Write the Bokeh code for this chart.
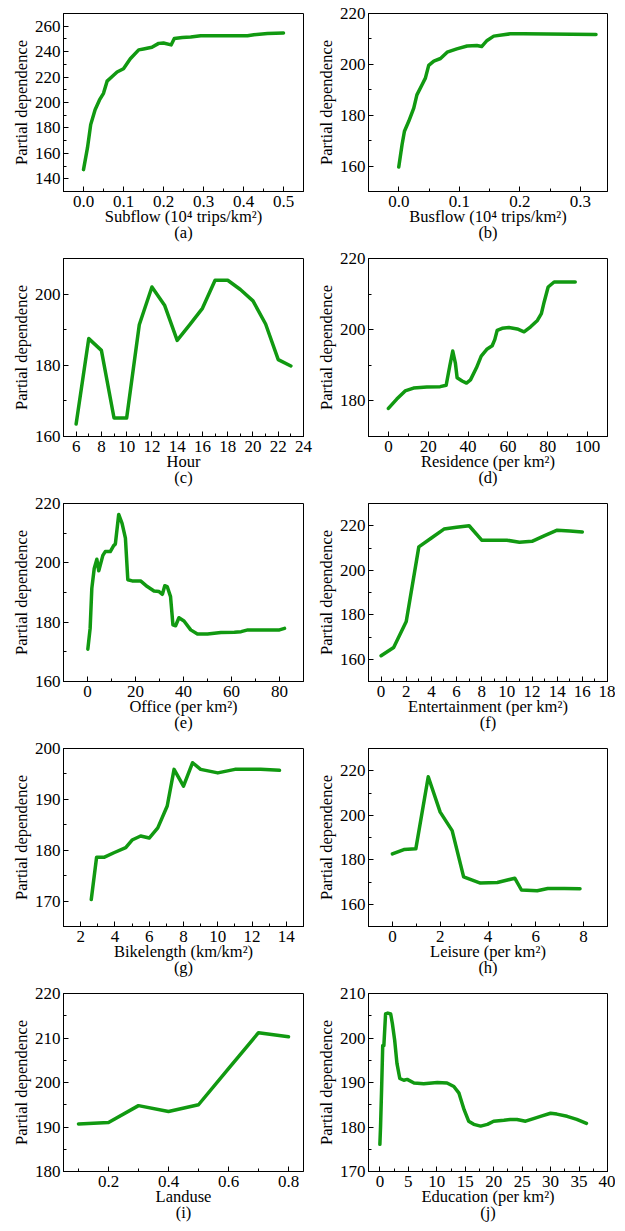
from bokeh.plotting import figure
from bokeh.layouts import gridplot
from bokeh.models import SingleIntervalTicker, NumeralTickFormatter, Range1d
from bokeh.embed import file_html
from bokeh.resources import INLINE

# ---- data ----
subflow_x = [0.0, 0.01, 0.018, 0.029, 0.04, 0.05, 0.059, 0.071, 0.084, 0.1, 0.117, 0.138, 0.15, 0.171,
             0.188, 0.2, 0.219, 0.227, 0.247, 0.268, 0.293, 0.376, 0.41, 0.426, 0.46, 0.5]
subflow_pd = [147.2, 164.5, 182.6, 194.3, 202.0, 207.2, 216.8, 220.2, 224.0, 226.6, 234.4, 241.4, 242.1, 243.4,
              246.5, 246.8, 245.3, 250.4, 251.2, 251.5, 252.5, 252.5, 252.5, 253.3, 254.3, 254.6]

busflow_x = [0.0, 0.0055, 0.0094, 0.0165, 0.0248, 0.03, 0.0385, 0.044, 0.0495, 0.058, 0.069, 0.08, 0.096,
             0.113, 0.129, 0.137, 0.146, 0.157, 0.173, 0.184, 0.206, 0.326]
busflow_pd = [159.6, 168.5, 173.7, 177.6, 182.8, 188.0, 192.0, 194.6, 199.6, 201.3, 202.3, 204.8, 206.1,
              207.2, 207.4, 207.0, 209.4, 211.1, 211.6, 212.0, 212.0, 211.7]

hour_x = [6, 7, 8, 9, 10, 11, 12, 13, 14, 15, 16, 17, 18, 19, 20, 21, 22, 23]
hour_pd = [163.5, 187.5, 184.2, 165.2, 165.2, 191.4, 202.0, 196.9, 187.0, 191.4, 196.0, 203.9, 203.9,
           201.3, 198.1, 191.6, 181.6, 179.8]

residence_x = [0, 4.2, 8.4, 12.6, 19.3, 26, 29, 30.8, 32.3, 33.6, 34.5, 37, 39.2, 41.2, 44.2, 46.6, 49.6,
               52.1, 53.4, 54.6, 57.1, 60.5, 64.7, 68.1, 71.4, 74.8, 76.8, 78.2, 80.2, 83.2, 88.2, 93.8]
residence_pd = [177.9, 180.5, 182.8, 183.6, 183.9, 184.0, 184.4, 189.8, 194.0, 190.7, 186.5, 185.6, 185.0,
                185.9, 189.3, 192.6, 194.6, 195.5, 197.2, 199.8, 200.4, 200.6, 200.2, 199.4, 200.8, 202.6,
                204.5, 207.8, 212.0, 213.4, 213.4, 213.4]

office_x = [0.14, 1.1, 1.8, 2.8, 3.9, 4.7, 6.4, 7.4, 9.5, 10.9, 11.6, 13.0, 14.4, 15.8, 16.8, 18.6, 22.1,
            24.9, 27.7, 29.8, 31.2, 32.2, 33.2, 34.6, 35.6, 36.7, 38.1, 40.2, 43.0, 45.8, 50.0, 55.6, 61.2,
            64.0, 66.8, 75.2, 80.0, 82.1]
office_pd = [170.9, 177.9, 191.4, 198.1, 201.2, 197.3, 202.5, 203.8, 203.8, 205.8, 206.3, 216.3, 213.3,
             208.3, 194.3, 193.9, 193.9, 192.0, 190.5, 190.3, 189.4, 192.3, 192.0, 188.6, 179.1, 178.8,
             181.5, 180.4, 177.4, 176.0, 176.0, 176.5, 176.6, 176.8, 177.4, 177.4, 177.4, 177.9]

entertainment_x = [0, 1, 2, 3, 4, 5, 6, 7, 8, 9, 10, 11, 12, 13, 14, 15, 16]
entertainment_pd = [161.6, 165.3, 177.0, 210.5, 214.5, 218.5, 219.3, 220.0, 213.5, 213.5, 213.5, 212.6,
                    213.0, 215.6, 218.0, 217.6, 217.2]

bikelength_x = [2.62, 2.93, 3.36, 3.94, 4.63, 5.0, 5.5, 6.0, 6.5, 7.05, 7.45, 8.0, 8.53, 9.0, 10.0, 11.0,
                12.5, 13.6]
bikelength_pd = [170.3, 178.6, 178.6, 179.5, 180.5, 182.0, 182.8, 182.4, 184.4, 188.7, 195.9, 192.6,
                 197.2, 195.9, 195.2, 195.9, 195.9, 195.7]

leisure_x = [0, 0.48, 0.98, 1.5, 2.0, 2.5, 2.98, 3.68, 4.39, 5.12, 5.4, 6.06, 6.5, 7.2, 7.85]
leisure_pd = [182.6, 184.6, 184.9, 217.3, 201.4, 193.1, 172.3, 169.5, 169.8, 171.7, 166.4, 166.1, 167.1,
              167.1, 167.0]

landuse_x = [0.1, 0.2, 0.3, 0.4, 0.5, 0.6, 0.7, 0.8]
landuse_pd = [190.7, 191.0, 194.8, 193.5, 195.0, 203.1, 211.2, 210.3]

education_x = [0, 0.12, 0.3, 0.5, 0.7, 1.0, 1.4, 1.9, 2.2, 2.6, 3.0, 3.5, 4.2, 4.8, 6.0, 7.7, 10.1, 11.8,
               13.0, 13.9, 14.8, 15.6, 16.5, 17.7, 18.9, 20.0, 21.8, 22.9, 24.1, 25.6, 27.0, 28.5, 30.0,
               31.1, 32.9, 34.6, 36.3]
education_pd = [176.1, 180.2, 188.4, 198.3, 198.3, 205.4, 205.6, 205.4, 203.2, 199.5, 194.3, 190.9, 190.5,
                190.7, 189.9, 189.7, 190.0, 189.9, 189.1, 187.6, 183.9, 181.3, 180.6, 180.2, 180.6, 181.3,
                181.5, 181.7, 181.7, 181.3, 181.9, 182.5, 183.1, 182.9, 182.4, 181.7, 180.8]

x_labels = ["Subflow (10\u2074 trips/km\u00b2)", "Busflow (10\u2074 trips/km\u00b2)", "Hour",
            "Residence (per km\u00b2)", "Office (per km\u00b2)", "Entertainment (per km\u00b2)",
            "Bikelength (km/km\u00b2)", "Leisure (per km\u00b2)", "Landuse", "Education (per km\u00b2)"]
tags = ["(a)", "(b)", "(c)", "(d)", "(e)", "(f)", "(g)", "(h)", "(i)", "(j)"]
y_label = "Partial dependence"

FONT = "Liberation Serif"
GREEN = "#119911"


def panel(xs, ys, xr, yr, xint, yint, xfmt, xlabel, tag, left_col):
    p = figure(frame_width=240 if left_col else 239, frame_height=178,
               min_border_left=63 if left_col else 51, min_border_right=10 if left_col else 8,
               min_border_top=13, min_border_bottom=54,
               x_range=Range1d(*xr), y_range=Range1d(*yr),
               output_backend="svg", toolbar_location=None)
    p.line(xs, ys, line_color=GREEN, line_width=3.5, line_join="round", line_cap="round")
    p.xgrid.visible = False
    p.ygrid.visible = False
    p.outline_line_color = "black"
    p.outline_line_width = 1
    p.outline_line_alpha = 1
    p.background_fill_color = "white"
    p.border_fill_color = "white"
    p.xaxis.ticker = SingleIntervalTicker(interval=xint, num_minor_ticks=2)
    p.yaxis.ticker = SingleIntervalTicker(interval=yint, num_minor_ticks=2)
    if xfmt:
        p.xaxis.formatter = NumeralTickFormatter(format=xfmt)
    for ax in (p.xaxis, p.yaxis):
        ax.axis_line_color = "black"
        ax.axis_line_width = 1
        ax.major_tick_in = 5
        ax.major_tick_out = 0
        ax.minor_tick_in = 3
        ax.minor_tick_out = 0
        ax.major_tick_line_color = "black"
        ax.minor_tick_line_color = "black"
        ax.major_label_text_font = FONT
        ax.major_label_text_font_size = "17px"
        ax.major_label_text_color = "black"
        ax.axis_label_text_font = FONT
        ax.axis_label_text_font_style = "normal"
        ax.axis_label_text_color = "black"
    p.xaxis.major_label_standoff = 4
    p.xaxis.axis_label_standoff = -3
    p.xaxis.axis_label_text_line_height = 0.85
    p.xaxis.axis_label_text_font_size = "16.5px"
    p.yaxis.major_label_standoff = 3
    p.yaxis.axis_label_standoff = 1
    p.yaxis.axis_label_text_font_size = "16.5px"
    p.xaxis.axis_label = xlabel + "\n" + tag
    p.yaxis.axis_label = y_label
    return p


specs = [
    (subflow_x, subflow_pd, (-0.05, 0.55), (130, 270), 0.1, 20, "0.0"),
    (busflow_x, busflow_pd, (-0.05, 0.345), (150, 220), 0.1, 20, "0.0"),
    (hour_x, hour_pd, (5, 24), (160, 210), 2, 20, None),
    (residence_x, residence_pd, (-10, 110), (170, 220), 20, 20, None),
    (office_x, office_pd, (-10, 90), (160, 220), 20, 20, None),
    (entertainment_x, entertainment_pd, (-1, 18), (150, 230), 2, 20, None),
    (bikelength_x, bikelength_pd, (1, 15), (165, 200), 2, 10, None),
    (leisure_x, leisure_pd, (-1, 9), (150, 230), 2, 20, None),
    (landuse_x, landuse_pd, (0.05, 0.85), (180, 220), 0.2, 10, "0.0"),
    (education_x, education_pd, (-2, 40), (170, 210), 5, 10, None),
]

plots = []
for i, (xs, ys, xr, yr, xi, yi, fmt) in enumerate(specs):
    plots.append(panel(xs, ys, xr, yr, xi, yi, fmt, x_labels[i], tags[i], i % 2 == 0))

grid = gridplot([plots[i:i + 2] for i in range(0, 10, 2)], toolbar_location=None)

open("out.html", "w").write(file_html(grid, INLINE))
